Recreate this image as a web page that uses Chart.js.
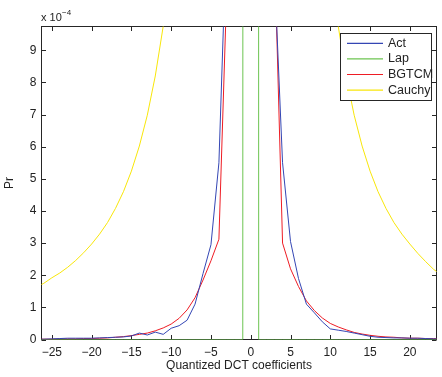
<!DOCTYPE html>
<html><head><meta charset="utf-8">
<script src="https://cdn.jsdelivr.net/npm/chart.js@4/dist/chart.umd.min.js"></script>
<style>html,body{margin:0;padding:0;background:#fff;overflow:hidden}</style>
</head><body>
<canvas id="c" width="442" height="377"></canvas>
<script>
// Quantized DCT coefficient values (x)
const coefficients = [-27,-26,-25,-24,-23,-22,-21,-20,-19,-18,-17,-16,-15,-14,-13,-12,-11,-10,-9,-8,-7,-6,-5,-4,-3,-2,-1,0,1,2,3,4,5,6,7,8,9,10,11,12,13,14,15,16,17,18,19,20,21,22,23,24];
// Probabilities in units of 1e-4
const actValues = [0.01,0.01,0.02,0.03,0.04,0.04,0.04,0.04,0.05,0.06,0.07,0.08,0.11,0.20,0.14,0.23,0.16,0.35,0.43,0.60,1.10,2.05,2.95,5.5,13,60,400,6000,400,60,11.3,5.5,3.05,1.9,1.1,0.83,0.55,0.33,0.29,0.25,0.20,0.15,0.10,0.07,0.06,0.05,0.05,0.04,0.04,0.03,0.02,0.02];
const lapValues = [0,0,0,0,0,0,0,0,0,0,0,0,0,0,0,0,0,0,0,0,0,0,0,0,0,0,0,9000,0,0,0,0,0,0,0,0,0,0,0,0,0,0,0,0,0,0,0,0,0,0,0,0];
const bgtcmValues = [0.01,0.01,0.01,0.02,0.02,0.02,0.03,0.03,0.04,0.05,0.07,0.09,0.12,0.16,0.20,0.27,0.36,0.48,0.66,0.92,1.30,1.85,2.45,3.12,11,60,400,6000,400,60,12,3.0,2.2,1.65,1.2,0.9,0.67,0.5,0.39,0.3,0.22,0.17,0.13,0.10,0.08,0.07,0.05,0.04,0.04,0.03,0.03,0.02];
const cauchyValues = [1.62,1.75,1.92,2.07,2.25,2.46,2.70,2.97,3.28,3.64,4.08,4.60,5.24,6.02,6.98,8.2,9.75,11.8,14.6,18.4,24,33,47,74,130,290,1000,2000,1000,290,130,74,47,33,24,18.4,14.6,11.8,9.75,8.2,6.98,6.02,5.24,4.60,4.08,3.64,3.28,2.97,2.68,2.42,2.18,2.0];
const seriesNames = ['Act','Lap','BGTCM','Cauchy'];
const seriesColors = ['#3446b4','#6cc451','#ee1c24','#f8e60a'];
const xTickValues = [-25,-20,-15,-10,-5,0,5,10,15,20];
const yTickValues = [0,1,2,3,4,5,6,7,8,9];
const xLimits = [-26.3, 23.35];
const yLimits = [0, 9.74];
const xTitle = 'Quantized DCT coefficients';
const yTitle = 'Pr';

const FONT = '"Liberation Sans", Arial, Helvetica, sans-serif';
const seriesValues = [actValues, lapValues, bgtcmValues, cauchyValues];
const datasets = seriesNames.map((n, i) => ({
  label: n,
  data: coefficients.map((x, j) => ({x: x, y: seriesValues[i][j]})),
  borderColor: seriesColors[i],
  backgroundColor: seriesColors[i],
  borderWidth: 1,
  pointRadius: 0,
  tension: 0,
  fill: false
}));

const fmt = v => (v < 0 ? '\u2212' + Math.abs(v) : String(v));

const framePlugin = {
  id: 'frame',
  beforeDatasetsDraw(chart) {
    const {ctx, chartArea: a, scales} = chart;
    ctx.save();
    ctx.strokeStyle = '#262626';
    ctx.lineWidth = 1;
    ctx.strokeRect(a.left, a.top, a.right - a.left, a.bottom - a.top);
    const tl = 4.5;
    ctx.beginPath();
    xTickValues.forEach(v => {
      const px = Math.round(scales.x.getPixelForValue(v)) + 0.5;
      ctx.moveTo(px, a.bottom); ctx.lineTo(px, a.bottom - tl);
      ctx.moveTo(px, a.top); ctx.lineTo(px, a.top + tl);
    });
    yTickValues.forEach(v => {
      const py = Math.round(scales.y.getPixelForValue(v)) + 0.5;
      ctx.moveTo(a.left, py); ctx.lineTo(a.left + tl, py);
      ctx.moveTo(a.right, py); ctx.lineTo(a.right - tl, py);
    });
    ctx.stroke();
    ctx.restore();
  },
  afterDatasetsDraw(chart) {
    const {ctx, chartArea: a} = chart;
    ctx.save();
    // legend box
    const bx = 340.5, by = 33.5, bw = 91, bh = 67;
    ctx.fillStyle = '#fff';
    ctx.fillRect(bx, by, bw, bh);
    ctx.strokeStyle = '#262626';
    ctx.lineWidth = 1;
    ctx.strokeRect(bx, by, bw, bh);
    ctx.font = '12.5px ' + FONT;
    ctx.textBaseline = 'middle';
    ctx.textAlign = 'left';
    seriesNames.forEach((name, i) => {
      const y = 43.3 + i * 15.6;
      ctx.strokeStyle = seriesColors[i];
      ctx.lineWidth = 1.2;
      ctx.beginPath(); ctx.moveTo(347, y); ctx.lineTo(383, y); ctx.stroke();
      ctx.fillStyle = '#222';
      ctx.fillText(name, 388, y);
    });
    // exponent label
    ctx.fillStyle = '#222';
    ctx.textBaseline = 'alphabetic';
    ctx.font = '11px ' + FONT;
    ctx.fillText('x 10', 41, 21);
    ctx.font = '8px ' + FONT;
    ctx.fillText('\u22124', 62, 15);
    // axis titles
    ctx.font = '12px ' + FONT;
    ctx.textAlign = 'center';
    ctx.textBaseline = 'middle';
    ctx.fillText(xTitle, (a.left + a.right) / 2, 366);
    ctx.translate(10, (a.top + a.bottom) / 2);
    ctx.rotate(-Math.PI / 2);
    ctx.fillText(yTitle, 0, 0);
    ctx.restore();
  }
};

new Chart(document.getElementById('c'), {
  type: 'line',
  data: {datasets},
  options: {
    responsive: false,
    animation: false,
    devicePixelRatio: 1,
    layout: {padding: {left: 0, right: 5.5, top: 26.5, bottom: 0}},
    plugins: {legend: {display: false}, tooltip: {enabled: false}},
    scales: {
      x: {
        type: 'linear', min: xLimits[0], max: xLimits[1],
        afterBuildTicks: s => { s.ticks = xTickValues.map(v => ({value: v})); },
        afterFit: s => { s.height = 37.5; },
        grid: {display: false, drawTicks: false},
        border: {display: false},
        ticks: {font: {family: FONT, size: 12}, color: '#222', padding: 6, maxRotation: 0, autoSkip: false, callback: v => fmt(v)}
      },
      y: {
        type: 'linear', min: yLimits[0], max: yLimits[1],
        afterBuildTicks: s => { s.ticks = yTickValues.map(v => ({value: v})); },
        afterFit: s => { s.width = 41.5; },
        grid: {display: false, drawTicks: false},
        border: {display: false},
        ticks: {font: {family: FONT, size: 12}, color: '#222', padding: 5, autoSkip: false, callback: v => fmt(v)}
      }
    }
  },
  plugins: [framePlugin]
});
</script>
</body></html>
